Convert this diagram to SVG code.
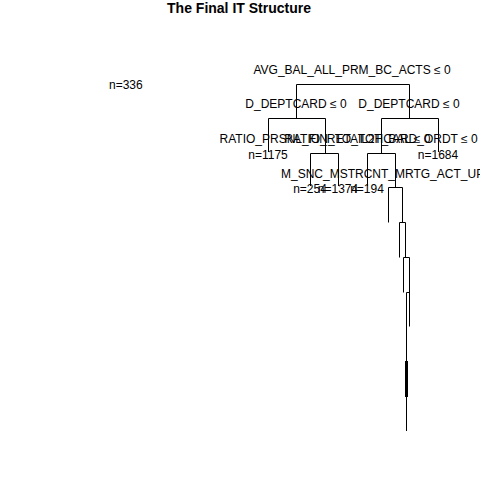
<svg xmlns="http://www.w3.org/2000/svg" width="480" height="480" viewBox="0 0 480 480">
<style>
text{font-family:"Liberation Sans",Arial,sans-serif;font-size:12px;fill:#000}
.t{font-size:14px;font-weight:bold}
.m{text-anchor:middle}
.e{fill:none;stroke:#000;stroke-width:1}
</style>
<rect width="480" height="480" fill="#fff"/>
<text class="t m" x="239" y="13">The Final IT Structure</text>
<g id="connectors" class="e">
<path d="M296.5 118.5V84.5H409.5V118.5"/>
<path d="M268.5 152V118.5H325.5V153.5"/>
<path d="M381.5 153.5V118.5H438.5V152"/>
<path d="M310.5 186V153.5H338.5V186"/>
<path d="M367.5 186V153.5H395.5V187.5"/>
<path d="M388.5 222.5V187.5H402.5V222.5"/>
<path d="M399.5 257.5V222.5H405.5V257.5"/>
<path d="M403.5 292.5V257.5H409.5V326.5"/>
<path d="M406.5 292.5H409.5M406.5 292.5V431"/>
<rect x="405" y="361" width="3" height="36" fill="#000" stroke="none"/>
</g>
<g id="n0"><text class="m" x="352" y="74">AVG_BAL_ALL_PRM_BC_ACTS ≤ 0</text></g>
<g id="n1"><text class="m" x="296" y="108">D_DEPTCARD ≤ 0</text></g>
<g id="n2"><text class="m" x="409" y="108">D_DEPTCARD ≤ 0</text></g>
<g id="n3"><text class="m" x="268" y="159">n=1175</text></g>
<g id="n4"><text class="m" x="325" y="143">RATIO_PRSNL_FIN_TO_TOT_BAL ≤ 0</text></g>
<g id="n5"><text class="m" x="381" y="143">RATIO_RETAIL2HCARD_ORDT ≤ 0</text></g>
<g id="n6"><text class="m" x="438" y="159">n=1684</text></g>
<g id="n7"><text class="m" x="310" y="193">n=254</text></g>
<g id="n8"><text class="m" x="338" y="193">n=1374</text></g>
<g id="n9"><text class="m" x="367" y="193">n=194</text></g>
<g id="n10"><text x="281" y="178">M_SNC_MSTRCNT_MRTG_ACT_UPD ≤ 0</text></g>
<g id="n11"><text x="109" y="89">n=336</text></g>
</svg>
